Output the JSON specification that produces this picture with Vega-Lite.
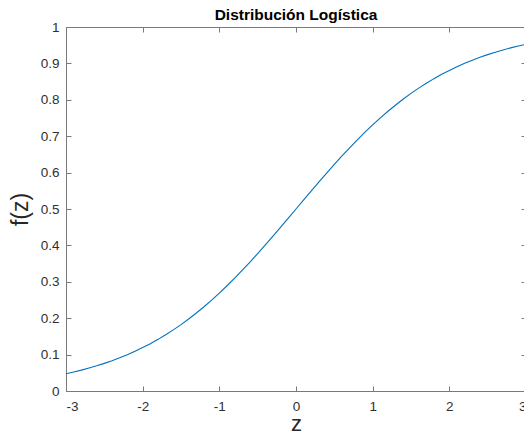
{
  "$schema": "https://vega.github.io/schema/vega-lite/v6.json",
  "width": 460,
  "height": 364,
  "autosize": {"type": "none"},
  "padding": {"left": 66, "top": 27, "right": 0, "bottom": 44},
  "background": "white",
  "config": {
    "view": {"stroke": null},
    "font": "Liberation Sans",
    "axis": {"grid": false, "domainColor": "#7a7a7a", "tickColor": "#7a7a7a", "labelColor": "#303030", "titleColor": "#262626", "labelFont": "Liberation Sans", "titleFont": "Liberation Sans", "labelFontSize": 13.5, "domainWidth": 1, "tickWidth": 1}
  },
  "title": {"text": "Distribución Logística", "fontSize": 15.5, "fontWeight": "bold", "color": "#000000", "font": "Liberation Sans", "offset": -3, "anchor": "middle"},
  "data": {"values": [
    {"z": -3.0, "f": 0.0474}, {"z": -2.9, "f": 0.0522}, {"z": -2.8, "f": 0.0573}, {"z": -2.7, "f": 0.0630},
    {"z": -2.6, "f": 0.0691}, {"z": -2.5, "f": 0.0759}, {"z": -2.4, "f": 0.0832}, {"z": -2.3, "f": 0.0911},
    {"z": -2.2, "f": 0.0998}, {"z": -2.1, "f": 0.1091}, {"z": -2.0, "f": 0.1192}, {"z": -1.9, "f": 0.1301},
    {"z": -1.8, "f": 0.1419}, {"z": -1.7, "f": 0.1545}, {"z": -1.6, "f": 0.1680}, {"z": -1.5, "f": 0.1824},
    {"z": -1.4, "f": 0.1978}, {"z": -1.3, "f": 0.2142}, {"z": -1.2, "f": 0.2315}, {"z": -1.1, "f": 0.2497},
    {"z": -1.0, "f": 0.2689}, {"z": -0.9, "f": 0.2891}, {"z": -0.8, "f": 0.3100}, {"z": -0.7, "f": 0.3318},
    {"z": -0.6, "f": 0.3543}, {"z": -0.5, "f": 0.3775}, {"z": -0.4, "f": 0.4013}, {"z": -0.3, "f": 0.4256},
    {"z": -0.2, "f": 0.4502}, {"z": -0.1, "f": 0.4750}, {"z": 0.0, "f": 0.5000}, {"z": 0.1, "f": 0.5250},
    {"z": 0.2, "f": 0.5498}, {"z": 0.3, "f": 0.5744}, {"z": 0.4, "f": 0.5987}, {"z": 0.5, "f": 0.6225},
    {"z": 0.6, "f": 0.6457}, {"z": 0.7, "f": 0.6682}, {"z": 0.8, "f": 0.6900}, {"z": 0.9, "f": 0.7109},
    {"z": 1.0, "f": 0.7311}, {"z": 1.1, "f": 0.7503}, {"z": 1.2, "f": 0.7685}, {"z": 1.3, "f": 0.7858},
    {"z": 1.4, "f": 0.8022}, {"z": 1.5, "f": 0.8176}, {"z": 1.6, "f": 0.8320}, {"z": 1.7, "f": 0.8455},
    {"z": 1.8, "f": 0.8581}, {"z": 1.9, "f": 0.8699}, {"z": 2.0, "f": 0.8808}, {"z": 2.1, "f": 0.8909},
    {"z": 2.2, "f": 0.9002}, {"z": 2.3, "f": 0.9089}, {"z": 2.4, "f": 0.9168}, {"z": 2.5, "f": 0.9241},
    {"z": 2.6, "f": 0.9309}, {"z": 2.7, "f": 0.9370}, {"z": 2.8, "f": 0.9427}, {"z": 2.9, "f": 0.9478},
    {"z": 3.0, "f": 0.9526}
  ]},
  "layer": [
    {
      "mark": {"type": "line", "color": "#0072BD", "strokeWidth": 1.1, "clip": true},
      "encoding": {
        "x": {"field": "z", "type": "quantitative", "scale": {"domain": [-3, 3], "nice": false, "zero": false},
              "axis": {"orient": "bottom", "values": [-3, -2, -1, 0, 1, 2, 3], "labelExpr": "datum.value + ''", "tickSize": -5, "labelPadding": 13, "title": "z", "titleFontSize": 22, "titleFontWeight": "normal", "titlePadding": 1}},
        "y": {"field": "f", "type": "quantitative", "scale": {"domain": [0, 1], "nice": false},
              "axis": {"orient": "left", "values": [0, 0.1, 0.2, 0.3, 0.4, 0.5, 0.6, 0.7, 0.8, 0.9, 1], "labelExpr": "datum.value + ''", "tickSize": -5, "labelPadding": 12, "title": "f(z)", "titleFontSize": 23, "titleFontWeight": "normal", "titlePadding": 8}}
      }
    },
    {
      "mark": {"type": "line", "opacity": 0},
      "encoding": {
        "x": {"field": "z", "type": "quantitative", "scale": {"domain": [-3, 3], "nice": false, "zero": false},
              "axis": {"orient": "top", "values": [-3, -2, -1, 0, 1, 2, 3], "tickSize": -5, "labels": false, "title": null}},
        "y": {"field": "f", "type": "quantitative", "scale": {"domain": [0, 1], "nice": false},
              "axis": {"orient": "right", "values": [0, 0.1, 0.2, 0.3, 0.4, 0.5, 0.6, 0.7, 0.8, 0.9, 1], "tickSize": -5, "labels": false, "title": null}}
      }
    }
  ],
  "resolve": {"axis": {"x": "independent", "y": "independent"}}
}
